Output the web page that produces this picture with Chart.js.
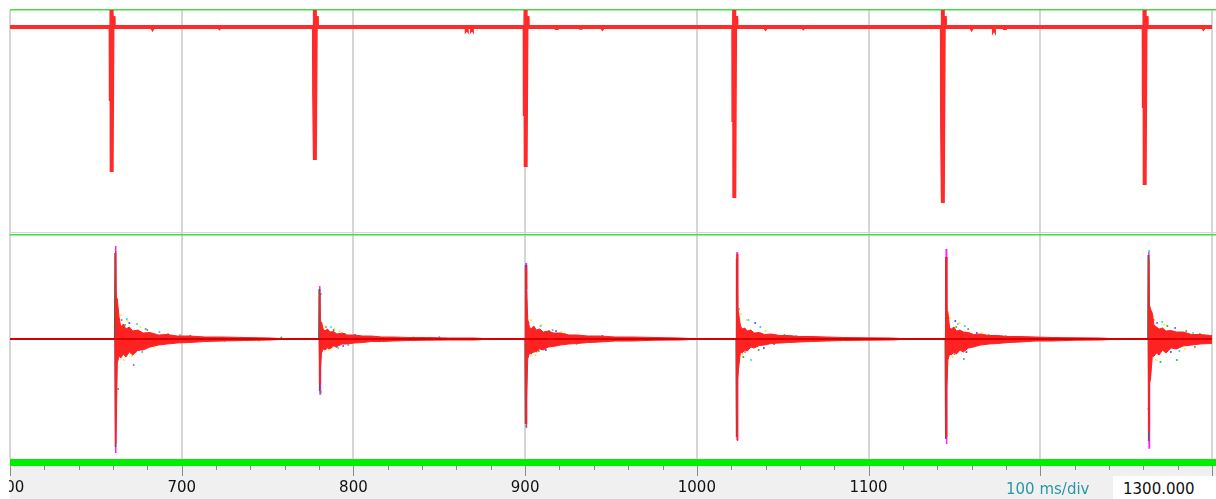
<!DOCTYPE html>
<html>
<head>
<meta charset="utf-8">
<title>scope</title>
<script src="https://cdn.jsdelivr.net/npm/chart.js@4.4.1/dist/chart.umd.min.js"></script>
<style>
body { margin:0; background:#fff; }
#wrap { position:relative; width:1216px; height:499px; overflow:hidden; font-family:"DejaVu Sans", sans-serif; }
#scope { position:absolute; left:0; top:0; }
#divLabel { position:absolute; left:1006px; top:480px; font-size:15px; line-height:18px; color:#2a97a8; white-space:nowrap; }
#cursorBox { position:absolute; left:1113px; top:476px; width:103px; height:23px; background:#fff; }
#cursorVal { position:absolute; left:1123px; top:480px; font-size:15px; line-height:18px; color:#111; white-space:nowrap; }
</style>
</head>
<body>
<div id="wrap">
	<canvas id="scope" width="1216" height="499"></canvas>
	<div id="divLabel">100 ms/div</div>
	<div id="cursorBox"></div>
	<div id="cursorVal">1300.000</div>
</div>
<script>
// time axis (ms)
var xMin = 600, xMax = 1300, xStep = 20;
var tickLabels = ['600', '700', '800', '900', '1000', '1100'];

// channel 1 (top): trigger pulses
var pulseTimes = [659.2, 777.6, 900.3, 1021.8, 1143.3, 1260.8];
var pulsePeak  = [0.17, 0.17, 0.17, 0.17, 0.17, 0.17];
var pulseKnee  = [-0.74, -0.66, -0.89, -0.95, -1.0, -0.81];
var pulseDepth = [-1.45, -1.33, -1.40, -1.71, -1.76, -1.58];
var pulseShoulder = [0.09, 0.09, 0.09, 0.09, 0.09, 0.09];
var dipTimes  = [683, 722, 866, 869, 918, 932, 945, 1040, 1062, 1160, 1173, 1179, 1295];
var dipDepths = [-0.012, -0.008, -0.01, -0.01, -0.01, -0.008, -0.01, -0.01, -0.008, -0.012, -0.012, -0.01, -0.01];

// channel 2 (bottom): ringing after each hit
var burstTimes  = [661.5, 780.4, 900.5, 1023.4, 1145.2, 1263.2];
var ringOffsets = [0, 0.4, 1, 2, 3, 4.5, 6, 8, 10, 13, 16, 20, 25, 30, 36, 43, 52, 62, 75, 90];
var ringUpper = [
	[0.88, 0.42, 0.40, 0.22, 0.12, 0.15, 0.10, 0.12, 0.08, 0.09, 0.06, 0.065, 0.04, 0.045, 0.03, 0.03, 0.02, 0.02, 0.015, 0.01],
	[0.46, 0.17, 0.17, 0.10, 0.08, 0.10, 0.07, 0.075, 0.05, 0.06, 0.04, 0.04, 0.03, 0.03, 0.02, 0.02, 0.015, 0.015, 0.01, 0.01],
	[0.72, 0.50, 0.20, 0.12, 0.10, 0.13, 0.09, 0.10, 0.07, 0.08, 0.06, 0.06, 0.04, 0.04, 0.03, 0.03, 0.02, 0.02, 0.015, 0.01],
	[0.85, 0.31, 0.25, 0.13, 0.10, 0.11, 0.08, 0.09, 0.06, 0.065, 0.045, 0.05, 0.035, 0.035, 0.025, 0.025, 0.02, 0.015, 0.012, 0.01],
	[0.82, 0.29, 0.27, 0.11, 0.10, 0.12, 0.08, 0.09, 0.07, 0.065, 0.045, 0.05, 0.035, 0.035, 0.025, 0.025, 0.02, 0.015, 0.012, 0.01],
	[0.80, 0.34, 0.30, 0.26, 0.14, 0.12, 0.10, 0.11, 0.08, 0.085, 0.07, 0.07, 0.045, 0.045, 0.035, 0.03, 0.02, 0.02, 0.015, 0.01]
];
var ringLower = [
	[-1.05, -0.84, -0.24, -0.17, -0.19, -0.15, -0.18, -0.13, -0.16, -0.11, -0.11, -0.08, -0.06, -0.05, -0.04, -0.035, -0.025, -0.02, -0.015, -0.01],
	[-0.45, -0.30, -0.14, -0.10, -0.11, -0.09, -0.10, -0.07, -0.075, -0.05, -0.05, -0.04, -0.035, -0.025, -0.025, -0.02, -0.015, -0.012, -0.01, -0.01],
	[-0.85, -0.60, -0.20, -0.14, -0.15, -0.12, -0.13, -0.10, -0.11, -0.08, -0.075, -0.06, -0.05, -0.045, -0.035, -0.03, -0.02, -0.02, -0.012, -0.01],
	[-1.01, -0.40, -0.28, -0.13, -0.14, -0.11, -0.12, -0.08, -0.09, -0.065, -0.06, -0.045, -0.04, -0.035, -0.03, -0.025, -0.02, -0.015, -0.012, -0.01],
	[-0.98, -0.50, -0.21, -0.15, -0.16, -0.13, -0.15, -0.11, -0.13, -0.09, -0.08, -0.06, -0.05, -0.045, -0.035, -0.03, -0.02, -0.02, -0.012, -0.01],
	[-0.92, -0.44, -0.40, -0.18, -0.17, -0.14, -0.16, -0.11, -0.14, -0.09, -0.10, -0.07, -0.06, -0.05, -0.045, -0.035, -0.025, -0.02, -0.012, -0.01]
];
// other overlaid sweeps
var tipUpper = [0.93, 0.53, 0.76, 0.87, 0.90, 0.87];
var tipLower = [-1.14, -0.55, -0.89, -1.02, -1.05, -1.09];
var slateUpper = [0.86, 0.50, 0.74, 0.80, 0.82, 0.84];
var slateLower = [-1.08, -0.52, -0.85, -0.98, -1.00, -1.02];
var yellowDots = [[664.6,0.24],[666.2,-0.21],[668.5,0.18],[671,-0.17],[676,0.12],[684,-0.08],[712,0.02],[745,-0.02],[783.5,0.13],[785.5,-0.11],[789,0.10],[792,0.08],[835,0.02],[903.5,0.19],[906,-0.16],[909.5,0.14],[921,0.07],[1025.5,0.25],[1026.5,-0.15],[1029,0.19],[1040,0.08],[1147.5,0.21],[1149,-0.18],[1153,0.16],[1166,0.06],[1265.8,0.22],[1267.5,-0.21],[1272,0.14],[1284,-0.10]];
var cyanDots = [[668,0.20],[674,0.15],[677,-0.13],[687,0.07],[699,0.04],[725,-0.02],[787,0.12],[791,-0.09],[797,-0.06],[850,0.02],[909,0.13],[916,0.09],[930,-0.05],[1030,0.19],[1031.5,-0.21],[1037,0.12],[1058,0.03],[1152,0.15],[1156,0.13],[1161,-0.07],[1180,0.03],[1263.4,0.88],[1271,0.17],[1281,-0.12],[1289,0.06]];
var blueDots = [[669.5,0.16],[675,-0.11],[682,-0.07],[705,0.03],[788.5,0.09],[794,-0.07],[801,0.04],[900.7,0.73],[912,-0.11],[918,0.08],[945,0.03],[1034,0.16],[1039,-0.09],[1045,-0.05],[1150.5,0.18],[1157,-0.13],[1163,0.06],[1268,0.16],[1276,-0.13],[1278.5,0.11]];
var greenDots = [[667,0.14],[673,-0.13],[680,0.09],[692,0.05],[758,0.015],[781,-0.53],[787,-0.08],[795,0.05],[900.6,-0.87],[908,-0.12],[914,0.08],[1027,-0.18],[1036,-0.11],[1051,0.04],[1151,0.12],[1155.5,-0.20],[1170,0.04],[1270,-0.23],[1274,0.13],[1279.5,-0.21],[1293,0.05]];
var oliveDots = [[663,-0.50],[665,0.19],[672,-0.26],[679,0.10],[781,0.45],[784,0.12],[790,-0.08],[902,0.16],[905,-0.13],[923,0.05],[1024.5,0.3],[1028,-0.13],[1145,0.60],[1150,-0.15],[1158,0.10],[1263,-0.70],[1266,0.19],[1285,0.08],[1290,-0.08]];

function buildPulses(){
	var pts = [{x: xMin, y: 0}, {x: xMax, y: 0}];
	dipTimes.forEach(function(t, i){
		pts.push({x: t - 0.4, y: 0}, {x: t, y: dipDepths[i]}, {x: t + 0.4, y: 0});
	});
	pulseTimes.forEach(function(t, i){
		pts.push({x: t - 0.6, y: 0}, {x: t - 0.5, y: pulseKnee[i]}, {x: t - 0.1, y: pulsePeak[i]},
			{x: t, y: pulseDepth[i]}, {x: t + 0.5, y: pulseShoulder[i]}, {x: t + 1.1, y: pulseShoulder[i]}, {x: t + 1.2, y: 0});
	});
	pts.sort(function(a, b){ return a.x - b.x; });
	return pts;
}

function buildRing(side){
	var pts = [{x: xMin, y: 0}];
	burstTimes.forEach(function(t0, i){
		pts.push({x: t0 - 0.3, y: 0});
		ringOffsets.forEach(function(dt, k){ pts.push({x: t0 + dt, y: side[i][k]}); });
		pts.push({x: t0 + 100, y: 0});
	});
	return pts;
}

function buildSpikes(shift, ups, lows){
	var pts = [{x: xMin, y: 0}];
	burstTimes.forEach(function(t0, i){
		var t = t0 + shift;
		pts.push({x: t - 0.2, y: 0}, {x: t, y: ups[i]}, {x: t + 0.15, y: lows[i]}, {x: t + 0.4, y: 0});
	});
	return pts;
}

function dots(list){
	return list.map(function(p){ return {x: p[0], y: p[1]}; });
}

function dotSet(list, color){
	return { data: dots(list), yAxisID: 'yBot', showLine: false, pointStyle: 'rect',
		pointRadius: 1.2, pointBorderWidth: 0, pointBackgroundColor: color, order: 4 };
}

// frame: panel borders, thick base bar, small ticks, grey footer
var scopeFrame = {
	id: 'scopeFrame',
	beforeDraw: function(chart){
		var ctx = chart.ctx, a = chart.chartArea;
		ctx.save();
		ctx.fillStyle = '#f0f0f0';
		ctx.fillRect(a.left, a.bottom + 7, chart.width - a.left, chart.height - a.bottom - 7);
		ctx.restore();
	},
	beforeDatasetsDraw: function(chart){
		var ctx = chart.ctx, a = chart.chartArea, mid = chart.scales.yTop.bottom;
		ctx.save();
		ctx.fillStyle = '#d6d6d6';
		ctx.fillRect(a.left, mid - 2, chart.width - a.left, 1);
		ctx.fillStyle = '#3fe03f';
		ctx.fillRect(a.left, a.top - 1, chart.width - a.left, 1.5);
		ctx.fillRect(a.left, mid, chart.width - a.left, 1.5);
		ctx.restore();
	},
	afterDraw: function(chart){
		var ctx = chart.ctx, a = chart.chartArea, xs = chart.scales.x;
		ctx.save();
		ctx.fillStyle = '#00ee00';
		ctx.fillRect(a.left, a.bottom, chart.width - a.left, 7);
		ctx.strokeStyle = '#8a8a8a';
		ctx.lineWidth = 1;
		xs.ticks.forEach(function(t){
			var px = Math.round(xs.getPixelForValue(t.value)) + 0.5;
			var len = t.value % 100 === 0 ? 10 : 4;
			ctx.beginPath();
			ctx.moveTo(px, a.bottom + 7);
			ctx.lineTo(px, a.bottom + 7 + len);
			ctx.stroke();
		});
		ctx.fillStyle = '#fff';
		ctx.fillRect(0, a.bottom, a.left - 1, chart.height - a.bottom);
		ctx.restore();
	}
};

new Chart(document.getElementById('scope'), {
	type: 'line',
	data: {
		datasets: [
			{ data: buildPulses(), yAxisID: 'yTop', borderColor: '#ff2a2a', borderWidth: 4, order: 1 },
			{ data: [{x: xMin, y: 0}, {x: xMax, y: 0}], yAxisID: 'yBot', borderColor: '#d80000', borderWidth: 2, order: 0 },
			{ data: buildRing(ringUpper), yAxisID: 'yBot', borderColor: '#ff2222', backgroundColor: '#ff2222', borderWidth: 1, fill: 'origin', order: 2 },
			{ data: buildRing(ringLower), yAxisID: 'yBot', borderColor: '#ff2222', backgroundColor: '#ff2222', borderWidth: 1, fill: 'origin', order: 2 },
			{ data: buildSpikes(-0.35, slateUpper, slateLower), yAxisID: 'yBot', borderColor: '#55604e', borderWidth: 1.5, order: 3 },
			{ data: buildSpikes(0, tipUpper, tipLower), yAxisID: 'yBot', borderColor: '#ff20ff', borderWidth: 1.5, order: 5 },
			dotSet(yellowDots, '#f2ee00'),
			dotSet(cyanDots, '#00d8f0'),
			dotSet(blueDots, '#3340ff'),
			dotSet(greenDots, '#10c020'),
			dotSet(oliveDots, '#8a7a5a')
		]
	},
	options: {
		responsive: false,
		animation: false,
		devicePixelRatio: 1,
		layout: { padding: { left: 10, right: -2, top: 10, bottom: 0 } },
		plugins: { legend: { display: false }, tooltip: { enabled: false } },
		elements: { point: { radius: 0 }, line: { tension: 0 } },
		scales: {
			x: {
				type: 'linear', position: 'bottom', min: xMin, max: xMax,
				afterFit: function(s){ s.height = 40; s.paddingLeft = 0; s.paddingRight = 0; },
				ticks: {
					stepSize: xStep, autoSkip: false, maxRotation: 0, padding: 20, color: '#111',
					font: { family: 'DejaVu Sans', size: 15 },
					callback: function(v){ var s = String(v); return tickLabels.indexOf(s) >= 0 ? s : ''; }
				},
				grid: {
					drawTicks: false, lineWidth: 2,
					color: function(c){ return c.tick && c.tick.value % 100 === 0 ? '#d6d6d6' : 'rgba(0,0,0,0)'; }
				},
				border: { display: false }
			},
			yTop: { type: 'linear', position: 'right', display: false, stack: 'scope', stackWeight: 224, min: -2.07, max: 0.17 },
			yBot: { type: 'linear', position: 'right', display: false, stack: 'scope', stackWeight: 225, min: -1.2, max: 1.05 }
		}
	},
	plugins: [scopeFrame]
});
</script>
</body>
</html>
